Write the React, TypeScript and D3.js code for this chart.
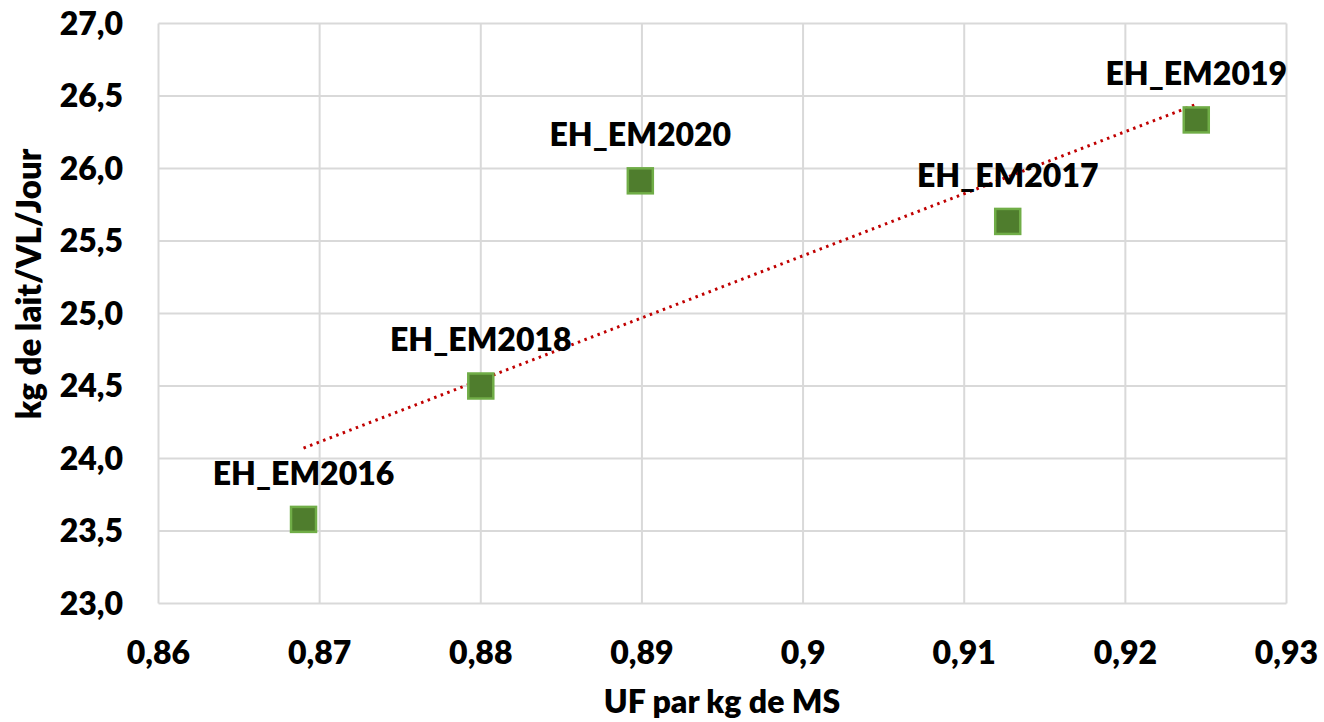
import React from "react";
import * as d3 from "d3";

const labels = ["EH_EM2016", "EH_EM2018", "EH_EM2020", "EH_EM2017", "EH_EM2019"];
const xValues = [0.869, 0.88, 0.8899, 0.9127, 0.9244];
const yValues = [23.58, 24.5, 25.915, 25.635, 26.335];
const xTicks = [0.86, 0.87, 0.88, 0.89, 0.9, 0.91, 0.92, 0.93];
const yTicks = [23.0, 23.5, 24.0, 24.5, 25.0, 25.5, 26.0, 26.5, 27.0];

const W = 1324, H = 722;
const M = { left: 158.5, right: 1324 - 1286.5, top: 23.5, bottom: 722 - 603.5 };
const FONT = "Lato, 'Open Sans', sans-serif";

const fmtX = (v: number) => String(+v.toFixed(2)).replace(".", ",");
const fmtY = (v: number) => v.toFixed(1).replace(".", ",");

export default function App() {
  const x = d3.scaleLinear().domain([0.86, 0.93]).range([M.left, W - M.right]);
  const y = d3.scaleLinear().domain([23, 27]).range([H - M.bottom, M.top]);

  // linear regression for trendline
  const n = xValues.length;
  const mx = d3.mean(xValues)!;
  const my = d3.mean(yValues)!;
  let sxy = 0, sxx = 0;
  for (let i = 0; i < n; i++) {
    sxy += (xValues[i] - mx) * (yValues[i] - my);
    sxx += (xValues[i] - mx) ** 2;
  }
  const slope = sxy / sxx;
  const intercept = my - slope * mx;
  const x0 = d3.min(xValues)!, x1 = d3.max(xValues)!;
  const line = d3.line<[number, number]>().x(d => x(d[0])).y(d => y(d[1]));
  const trend = line([[x0, intercept + slope * x0], [x1, intercept + slope * x1]]);

  const sq = 25;
  return (
    <svg width={W} height={H} style={{ position: "absolute", left: 0, top: 0, background: "#fff" }}>
      <rect x={0} y={0} width={W} height={H} fill="#fff" />
      {xTicks.map(t => (
        <line key={"gx" + t} x1={x(t)} x2={x(t)} y1={y(23)} y2={y(27)} stroke="#d9d9d9" strokeWidth={2} />
      ))}
      {yTicks.map(t => (
        <line key={"gy" + t} x1={x(0.86)} x2={x(0.93)} y1={y(t)} y2={y(t)} stroke="#d9d9d9" strokeWidth={2} />
      ))}
      {yTicks.map(t => (
        <text key={"ty" + t} x={123} y={y(t)} dy="0.35em" textAnchor="end" fontFamily={FONT} fontWeight={800} fontSize={32} fill="#000">{fmtY(t)}</text>
      ))}
      {xTicks.map(t => (
        <text key={"tx" + t} x={x(t)} y={653} dy="0.35em" textAnchor="middle" fontFamily={FONT} fontWeight={800} fontSize={32} fill="#000">{fmtX(t)}</text>
      ))}
      <path d={trend || ""} fill="none" stroke="#c00000" strokeWidth={3} strokeDasharray="2.5 4.5" />
      {xValues.map((v, i) => (
        <rect key={"p" + i} x={x(v) - sq / 2} y={y(yValues[i]) - sq / 2} width={sq} height={sq} fill="#4f7d2d" stroke="#70ad47" strokeWidth={2.5} />
      ))}
      {xValues.map((v, i) => (
        <text key={"l" + i} x={x(v)} y={y(yValues[i]) - 46} dy="0.35em" textAnchor="middle" fontFamily={FONT} fontWeight={800} fontSize={32} fill="#000">{labels[i]}</text>
      ))}
      <text x={722} y={702} dy="0.35em" textAnchor="middle" fontFamily={FONT} fontWeight={800} fontSize={32} fill="#000">UF par kg de MS</text>
      <text transform={`translate(29,284) rotate(-90)`} dy="0.35em" textAnchor="middle" fontFamily={FONT} fontWeight={800} fontSize={33} fill="#000">kg de lait/VL/Jour</text>
    </svg>
  );
}
